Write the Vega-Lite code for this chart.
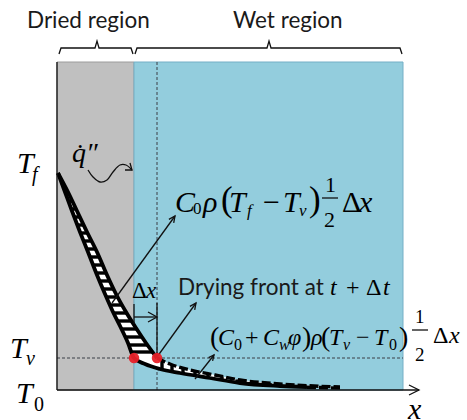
{
  "$schema": "https://vega.github.io/schema/vega-lite/v6.json",
  "width": 467,
  "height": 420,
  "padding": 0,
  "autosize": {"type": "none"},
  "background": "white",
  "config": {"view": {"stroke": null}, "text": {"font": "Liberation Serif", "align": "left", "baseline": "alphabetic", "color": "black"}},
  "datasets": {
    "regions": [
      {"region": "dried", "x": 0, "x2": 7.7, "T": 0, "T2": 32.8},
      {"region": "wet", "x": 7.7, "x2": 34.6, "T": 0, "T2": 32.8}
    ],
    "refs": [
      {"g": "Tv", "x": 0, "x2": 34.6, "T": 3.2, "T2": 3.2},
      {"g": "front", "x": 10.0, "x2": 10.0, "T": 0, "T2": 32.8}
    ],
    "band": [
      {"i": 0, "x": 0.1, "T": 21.7}, {"i": 1, "x": 0.8, "T": 19.8}, {"i": 2, "x": 1.5, "T": 17.9},
      {"i": 3, "x": 2.3, "T": 15.8}, {"i": 4, "x": 3.1, "T": 13.8}, {"i": 5, "x": 4.0, "T": 11.5},
      {"i": 6, "x": 4.8, "T": 9.6}, {"i": 7, "x": 5.6, "T": 7.8}, {"i": 8, "x": 6.4, "T": 6.2},
      {"i": 9, "x": 7.1, "T": 4.7}, {"i": 10, "x": 7.7, "T": 3.2}, {"i": 11, "x": 8.8, "T": 2.6},
      {"i": 12, "x": 10.3, "T": 2.1}, {"i": 13, "x": 12.3, "T": 1.7}, {"i": 14, "x": 15.3, "T": 1.2},
      {"i": 15, "x": 18.3, "T": 0.7}, {"i": 16, "x": 22.3, "T": 0.4}, {"i": 17, "x": 28.3, "T": 0.2},
      {"i": 18, "x": 28.3, "T": 0.3}, {"i": 19, "x": 22.3, "T": 0.6}, {"i": 20, "x": 18.3, "T": 1.0},
      {"i": 21, "x": 15.8, "T": 1.5}, {"i": 22, "x": 13.3, "T": 2.0}, {"i": 23, "x": 11.3, "T": 2.6},
      {"i": 24, "x": 10.0, "T": 3.2}, {"i": 25, "x": 8.9, "T": 4.7}, {"i": 26, "x": 7.9, "T": 6.2},
      {"i": 27, "x": 6.9, "T": 7.8}, {"i": 28, "x": 5.9, "T": 9.6}, {"i": 29, "x": 5.0, "T": 11.5},
      {"i": 30, "x": 4.0, "T": 13.8}, {"i": 31, "x": 3.0, "T": 15.8}, {"i": 32, "x": 2.0, "T": 17.9},
      {"i": 33, "x": 1.1, "T": 19.8}
    ],
    "rungs": [
      {"x": 0.54, "x2": 0.73, "T": 20.5, "T2": 20.5},
      {"x": 0.84, "x2": 1.15, "T": 19.7, "T2": 19.7},
      {"x": 1.13, "x2": 1.53, "T": 18.9, "T2": 18.9},
      {"x": 1.43, "x2": 1.91, "T": 18.1, "T2": 18.1},
      {"x": 1.73, "x2": 2.29, "T": 17.3, "T2": 17.3},
      {"x": 2.03, "x2": 2.67, "T": 16.5, "T2": 16.5},
      {"x": 2.34, "x2": 3.05, "T": 15.7, "T2": 15.7},
      {"x": 2.66, "x2": 3.45, "T": 14.9, "T2": 14.9},
      {"x": 2.98, "x2": 3.85, "T": 14.1, "T2": 14.1},
      {"x": 3.30, "x2": 4.22, "T": 13.3, "T2": 13.3},
      {"x": 3.61, "x2": 4.57, "T": 12.5, "T2": 12.5},
      {"x": 3.92, "x2": 4.91, "T": 11.7, "T2": 11.7},
      {"x": 4.25, "x2": 5.28, "T": 10.9, "T2": 10.9},
      {"x": 4.59, "x2": 5.66, "T": 10.1, "T2": 10.1},
      {"x": 4.93, "x2": 6.07, "T": 9.3, "T2": 9.3},
      {"x": 5.29, "x2": 6.51, "T": 8.5, "T2": 8.5},
      {"x": 5.65, "x2": 6.96, "T": 7.7, "T2": 7.7},
      {"x": 6.05, "x2": 7.46, "T": 6.9, "T2": 6.9},
      {"x": 6.45, "x2": 7.97, "T": 6.1, "T2": 6.1},
      {"x": 6.82, "x2": 8.5, "T": 5.3, "T2": 5.3},
      {"x": 7.19, "x2": 9.03, "T": 4.5, "T2": 4.5},
      {"x": 7.49, "x2": 9.5, "T": 3.8, "T2": 3.8},
      {"x": 10.5, "x2": 10.5, "T": 2.06, "T2": 2.97},
      {"x": 11.5, "x2": 11.5, "T": 1.86, "T2": 2.54},
      {"x": 12.6, "x2": 12.6, "T": 1.65, "T2": 2.21},
      {"x": 13.8, "x2": 13.8, "T": 1.45, "T2": 1.9},
      {"x": 15.1, "x2": 15.1, "T": 1.23, "T2": 1.64},
      {"x": 16.5, "x2": 16.5, "T": 1.0, "T2": 1.36},
      {"x": 18.0, "x2": 18.0, "T": 0.75, "T2": 1.06},
      {"x": 19.6, "x2": 19.6, "T": 0.6, "T2": 0.87},
      {"x": 21.3, "x2": 21.3, "T": 0.47, "T2": 0.7}
    ],
    "rails": [
      {"g": "L", "i": 0, "x": 0.1, "T": 21.7}, {"g": "L", "i": 1, "x": 0.8, "T": 19.8},
      {"g": "L", "i": 2, "x": 1.5, "T": 17.9}, {"g": "L", "i": 3, "x": 2.3, "T": 15.8},
      {"g": "L", "i": 4, "x": 3.1, "T": 13.8}, {"g": "L", "i": 5, "x": 4.0, "T": 11.5},
      {"g": "L", "i": 6, "x": 4.8, "T": 9.6}, {"g": "L", "i": 7, "x": 5.6, "T": 7.8},
      {"g": "L", "i": 8, "x": 6.4, "T": 6.2}, {"g": "L", "i": 9, "x": 7.1, "T": 4.7},
      {"g": "L", "i": 10, "x": 7.7, "T": 3.2}, {"g": "L", "i": 11, "x": 8.8, "T": 2.6},
      {"g": "L", "i": 12, "x": 10.3, "T": 2.1}, {"g": "L", "i": 13, "x": 12.3, "T": 1.7},
      {"g": "L", "i": 14, "x": 15.3, "T": 1.2}, {"g": "L", "i": 15, "x": 18.3, "T": 0.7},
      {"g": "L", "i": 16, "x": 22.3, "T": 0.4}, {"g": "L", "i": 17, "x": 25.0, "T": 0.28},
      {"g": "R", "i": 0, "x": 0.1, "T": 21.7}, {"g": "R", "i": 1, "x": 1.1, "T": 19.8},
      {"g": "R", "i": 2, "x": 2.0, "T": 17.9}, {"g": "R", "i": 3, "x": 3.0, "T": 15.8},
      {"g": "R", "i": 4, "x": 4.0, "T": 13.8}, {"g": "R", "i": 5, "x": 5.0, "T": 11.5},
      {"g": "R", "i": 6, "x": 5.9, "T": 9.6}, {"g": "R", "i": 7, "x": 6.9, "T": 7.8},
      {"g": "R", "i": 8, "x": 7.9, "T": 6.2}, {"g": "R", "i": 9, "x": 8.9, "T": 4.7},
      {"g": "R", "i": 10, "x": 10.0, "T": 3.2}
    ],
    "front": [
      {"g": "R2", "i": 0, "x": 10.0, "T": 3.2}, {"g": "R2", "i": 1, "x": 11.3, "T": 2.6},
      {"g": "R2", "i": 2, "x": 13.3, "T": 2.0}, {"g": "R2", "i": 3, "x": 15.8, "T": 1.5},
      {"g": "R2", "i": 4, "x": 18.3, "T": 1.0}, {"g": "R2", "i": 5, "x": 22.3, "T": 0.6},
      {"g": "R2", "i": 6, "x": 28.3, "T": 0.3},
      {"g": "L2", "i": 0, "x": 25.0, "T": 0.28}, {"g": "L2", "i": 1, "x": 28.5, "T": 0.18}
    ],
    "thin": [
      {"g": "braceL", "i": 0, "x": 0.2, "T": 33.6}, {"g": "braceL", "i": 1, "x": 0.4, "T": 34.2},
      {"g": "braceL", "i": 2, "x": 3.8, "T": 34.2}, {"g": "braceL", "i": 3, "x": 4.0, "T": 34.9},
      {"g": "braceL", "i": 4, "x": 4.2, "T": 34.2}, {"g": "braceL", "i": 5, "x": 7.4, "T": 34.2},
      {"g": "braceL", "i": 6, "x": 7.6, "T": 33.6},
      {"g": "braceR", "i": 0, "x": 7.8, "T": 33.6}, {"g": "braceR", "i": 1, "x": 8.0, "T": 34.2},
      {"g": "braceR", "i": 2, "x": 21.0, "T": 34.2}, {"g": "braceR", "i": 3, "x": 21.2, "T": 34.9},
      {"g": "braceR", "i": 4, "x": 21.4, "T": 34.2}, {"g": "braceR", "i": 5, "x": 34.3, "T": 34.2},
      {"g": "braceR", "i": 6, "x": 34.5, "T": 33.6},
      {"g": "a1", "i": 0, "x": 5.5, "T": 8.7}, {"g": "a1", "i": 1, "x": 11.8, "T": 17.4},
      {"g": "a1h", "i": 0, "x": 11.19, "T": 17.06}, {"g": "a1h", "i": 1, "x": 11.8, "T": 17.4},
      {"g": "a1h", "i": 2, "x": 11.67, "T": 16.71},
      {"g": "a2", "i": 0, "x": 10.0, "T": 3.3}, {"g": "a2", "i": 1, "x": 13.9, "T": 8.7},
      {"g": "a2h", "i": 0, "x": 13.29, "T": 8.36}, {"g": "a2h", "i": 1, "x": 13.9, "T": 8.7},
      {"g": "a2h", "i": 2, "x": 13.77, "T": 8.01},
      {"g": "a3", "i": 0, "x": 13.8, "T": 1.1}, {"g": "a3", "i": 1, "x": 15.7, "T": 3.5},
      {"g": "a3h", "i": 0, "x": 15.16, "T": 3.23}, {"g": "a3h", "i": 1, "x": 15.7, "T": 3.5},
      {"g": "a3h", "i": 2, "x": 15.56, "T": 2.92},
      {"g": "dxa", "i": 0, "x": 7.7, "T": 7.3}, {"g": "dxa", "i": 1, "x": 10.0, "T": 7.3},
      {"g": "dxh", "i": 0, "x": 9.1, "T": 7.8}, {"g": "dxh", "i": 1, "x": 10.0, "T": 7.3},
      {"g": "dxh", "i": 2, "x": 9.1, "T": 6.8},
      {"g": "dxl", "i": 0, "x": 7.7, "T": 8.6}, {"g": "dxl", "i": 1, "x": 7.7, "T": 6.6},
      {"g": "dxr", "i": 0, "x": 10.0, "T": 8.7}, {"g": "dxr", "i": 1, "x": 10.0, "T": 3.2},
      {"g": "xax", "i": 0, "x": 0, "T": 0}, {"g": "xax", "i": 1, "x": 36.2, "T": 0},
      {"g": "xah", "i": 0, "x": 35.2, "T": 0.5}, {"g": "xah", "i": 1, "x": 36.2, "T": 0},
      {"g": "xah", "i": 2, "x": 35.2, "T": -0.5},
      {"g": "yax", "i": 0, "x": 0, "T": 0}, {"g": "yax", "i": 1, "x": 0, "T": 32.8},
      {"g": "bar1", "i": 0, "x": 26.5, "T": 19.2}, {"g": "bar1", "i": 1, "x": 28.1, "T": 19.2},
      {"g": "bar2", "i": 0, "x": 35.5, "T": 6.0}, {"g": "bar2", "i": 1, "x": 37.1, "T": 6.0},
      {"g": "qh", "i": 0, "x": 7.3, "T": 22.7}, {"g": "qh", "i": 1, "x": 7.5, "T": 22.0},
      {"g": "qh", "i": 2, "x": 6.8, "T": 22.0}
    ],
    "squiggle": [
      {"i": 0, "x": 3.1, "T": 22.0}, {"i": 1, "x": 3.6, "T": 21.3}, {"i": 2, "x": 4.3, "T": 20.8},
      {"i": 3, "x": 5.0, "T": 21.0}, {"i": 4, "x": 5.6, "T": 21.8}, {"i": 5, "x": 6.3, "T": 22.5},
      {"i": 6, "x": 6.9, "T": 22.5}, {"i": 7, "x": 7.5, "T": 22.0}
    ],
    "dots": [
      {"front": "t", "x": 7.7, "T": 3.2},
      {"front": "t+dt", "x": 10.0, "T": 3.2}
    ],
    "italic": [
      {"role": "big", "s": "T", "x": -4.0, "T": 21.7},
      {"role": "bigsub", "s": "f", "x": -2.5, "T": 20.9},
      {"role": "big", "s": "T", "x": -4.7, "T": 3.2},
      {"role": "bigsub", "s": "v", "x": -3.1, "T": 2.5},
      {"role": "big", "s": "T", "x": -4.1, "T": -1.3},
      {"role": "big", "s": "x", "x": 35.1, "T": -2.9},
      {"role": "q", "s": "q̇″", "x": 1.5, "T": 22.8},
      {"role": "big", "s": "C", "x": 11.8, "T": 17.8},
      {"role": "big", "s": "ρ", "x": 14.6, "T": 17.8},
      {"role": "big", "s": "T", "x": 17.2, "T": 17.8},
      {"role": "f1sub", "s": "f", "x": 19.0, "T": 17.4},
      {"role": "big", "s": "T", "x": 22.6, "T": 17.8},
      {"role": "f1sub", "s": "v", "x": 24.2, "T": 17.4},
      {"role": "big", "s": "x", "x": 30.2, "T": 17.8},
      {"role": "mid", "s": "C", "x": 16.1, "T": 4.5},
      {"role": "mid", "s": "C", "x": 20.6, "T": 4.5},
      {"role": "midsub", "s": "w", "x": 22.2, "T": 4.0},
      {"role": "mid", "s": "φ", "x": 23.1, "T": 4.5},
      {"role": "mid", "s": "ρ", "x": 25.4, "T": 4.5},
      {"role": "mid", "s": "T", "x": 27.2, "T": 4.5},
      {"role": "midsub", "s": "v", "x": 28.6, "T": 4.0},
      {"role": "mid", "s": "T", "x": 31.7, "T": 4.5},
      {"role": "mid", "s": "x", "x": 39.2, "T": 4.7},
      {"role": "mid", "s": "t", "x": 27.3, "T": 9.5},
      {"role": "mid", "s": "t", "x": 32.6, "T": 9.5},
      {"role": "dx", "s": "x", "x": 8.9, "T": 9.2}
    ],
    "upright": [
      {"role": "bigsub", "s": "0", "x": -2.3, "T": -2.1},
      {"role": "f1sub", "s": "0", "x": 13.6, "T": 17.6},
      {"role": "paren1", "s": "(", "x": 16.4, "T": 17.9},
      {"role": "big", "s": "−", "x": 20.6, "T": 17.8},
      {"role": "paren1", "s": ")", "x": 25.2, "T": 17.9},
      {"role": "frac1", "s": "1", "x": 26.8, "T": 19.8},
      {"role": "frac1", "s": "2", "x": 26.7, "T": 16.3},
      {"role": "big", "s": "Δ", "x": 28.5, "T": 17.8},
      {"role": "paren2", "s": "(", "x": 15.3, "T": 4.4},
      {"role": "midsub", "s": "0", "x": 17.7, "T": 4.0},
      {"role": "mid", "s": "+", "x": 18.8, "T": 4.5},
      {"role": "paren2", "s": ")", "x": 24.5, "T": 4.4},
      {"role": "paren2", "s": "(", "x": 26.4, "T": 4.4},
      {"role": "mid", "s": "−", "x": 29.9, "T": 4.5},
      {"role": "midsub", "s": "0", "x": 33.2, "T": 4.0},
      {"role": "paren2", "s": ")", "x": 34.2, "T": 4.4},
      {"role": "frac2", "s": "1", "x": 35.8, "T": 6.7},
      {"role": "frac2", "s": "2", "x": 35.8, "T": 2.9},
      {"role": "mid", "s": "Δ", "x": 37.6, "T": 4.7},
      {"role": "mid", "s": "+", "x": 28.9, "T": 9.5},
      {"role": "mid", "s": "Δ", "x": 30.9, "T": 9.5},
      {"role": "dx", "s": "Δ", "x": 7.5, "T": 9.2}
    ],
    "sans": [
      {"s": "Dried region", "x": -3.0, "T": 36.2},
      {"s": "Wet region", "x": 17.6, "T": 36.2},
      {"s": "Drying front at", "x": 12.1, "T": 9.5}
    ]
  },
  "encoding": {
    "x": {"field": "x", "type": "quantitative", "scale": {"domain": [-5.7, 41.0], "nice": false, "zero": false}, "axis": null},
    "y": {"field": "T", "type": "quantitative", "scale": {"domain": [-3.0, 39.0], "nice": false, "zero": false}, "axis": null}
  },
  "layer": [
    {
      "data": {"name": "regions"},
      "mark": {"type": "rect", "strokeWidth": 1},
      "encoding": {
        "x2": {"field": "x2"},
        "y2": {"field": "T2"},
        "fill": {"field": "region", "type": "nominal", "scale": {"domain": ["dried", "wet"], "range": ["#c0c0c0", "#93cddd"]}, "legend": null},
        "stroke": {"field": "region", "type": "nominal", "scale": {"domain": ["dried", "wet"], "range": ["#9c9c9c", "#74afc6"]}, "legend": null}
      }
    },
    {
      "data": {"name": "refs"},
      "mark": {"type": "rule", "color": "#3a3f46", "strokeWidth": 1, "strokeDash": [3, 2]},
      "encoding": {"x2": {"field": "x2"}, "y2": {"field": "T2"}}
    },
    {
      "data": {"name": "band"},
      "mark": {"type": "line", "fill": "white", "strokeWidth": 0, "interpolate": "linear"},
      "encoding": {"order": {"field": "i", "type": "quantitative"}}
    },
    {
      "data": {"name": "rungs"},
      "mark": {"type": "rule", "color": "black", "strokeWidth": 3.4},
      "encoding": {"x2": {"field": "x2"}, "y2": {"field": "T2"}}
    },
    {
      "data": {"name": "rails"},
      "mark": {"type": "line", "color": "black", "strokeWidth": 3.8, "interpolate": "monotone"},
      "encoding": {"detail": {"field": "g"}, "order": {"field": "i", "type": "quantitative"}}
    },
    {
      "data": {"name": "front"},
      "mark": {"type": "line", "color": "black", "strokeWidth": 3.4, "strokeDash": [9, 3], "interpolate": "monotone"},
      "encoding": {"detail": {"field": "g"}, "order": {"field": "i", "type": "quantitative"}}
    },
    {
      "data": {"name": "thin"},
      "mark": {"type": "line", "color": "#111", "strokeWidth": 1.3},
      "encoding": {"detail": {"field": "g"}, "order": {"field": "i", "type": "quantitative"}}
    },
    {
      "data": {"name": "squiggle"},
      "mark": {"type": "line", "color": "#111", "strokeWidth": 1.3, "interpolate": "catmull-rom"},
      "encoding": {"order": {"field": "i", "type": "quantitative"}}
    },
    {
      "data": {"name": "dots"},
      "mark": {"type": "point", "shape": "circle", "filled": true, "color": "#e8222a", "opacity": 0.95, "size": 110}
    },
    {"data": {"name": "italic"}, "transform": [{"filter": "datum.role === 'big'"}], "mark": {"type": "text", "font": "Liberation Serif", "fontStyle": "italic", "fontSize": 30}, "encoding": {"text": {"field": "s"}}},
    {"data": {"name": "italic"}, "transform": [{"filter": "datum.role === 'bigsub'"}], "mark": {"type": "text", "font": "Liberation Serif", "fontStyle": "italic", "fontSize": 20}, "encoding": {"text": {"field": "s"}}},
    {"data": {"name": "italic"}, "transform": [{"filter": "datum.role === 'f1sub'"}], "mark": {"type": "text", "font": "Liberation Serif", "fontStyle": "italic", "fontSize": 17}, "encoding": {"text": {"field": "s"}}},
    {"data": {"name": "italic"}, "transform": [{"filter": "datum.role === 'mid'"}], "mark": {"type": "text", "font": "Liberation Serif", "fontStyle": "italic", "fontSize": 24}, "encoding": {"text": {"field": "s"}}},
    {"data": {"name": "italic"}, "transform": [{"filter": "datum.role === 'midsub'"}], "mark": {"type": "text", "font": "Liberation Serif", "fontStyle": "italic", "fontSize": 16}, "encoding": {"text": {"field": "s"}}},
    {"data": {"name": "italic"}, "transform": [{"filter": "datum.role === 'q'"}], "mark": {"type": "text", "font": "Liberation Serif", "fontStyle": "italic", "fontSize": 28}, "encoding": {"text": {"field": "s"}}},
    {"data": {"name": "italic"}, "transform": [{"filter": "datum.role === 'dx'"}], "mark": {"type": "text", "font": "Liberation Serif", "fontStyle": "italic", "fontSize": 23}, "encoding": {"text": {"field": "s"}}},
    {"data": {"name": "upright"}, "transform": [{"filter": "datum.role === 'big'"}], "mark": {"type": "text", "font": "Liberation Serif", "fontSize": 30}, "encoding": {"text": {"field": "s"}}},
    {"data": {"name": "upright"}, "transform": [{"filter": "datum.role === 'bigsub'"}], "mark": {"type": "text", "font": "Liberation Serif", "fontSize": 20}, "encoding": {"text": {"field": "s"}}},
    {"data": {"name": "upright"}, "transform": [{"filter": "datum.role === 'f1sub'"}], "mark": {"type": "text", "font": "Liberation Serif", "fontSize": 17}, "encoding": {"text": {"field": "s"}}},
    {"data": {"name": "upright"}, "transform": [{"filter": "datum.role === 'paren1'"}], "mark": {"type": "text", "font": "Liberation Serif", "fontSize": 35}, "encoding": {"text": {"field": "s"}}},
    {"data": {"name": "upright"}, "transform": [{"filter": "datum.role === 'frac1'"}], "mark": {"type": "text", "font": "Liberation Serif", "fontSize": 22}, "encoding": {"text": {"field": "s"}}},
    {"data": {"name": "upright"}, "transform": [{"filter": "datum.role === 'mid'"}], "mark": {"type": "text", "font": "Liberation Serif", "fontSize": 24}, "encoding": {"text": {"field": "s"}}},
    {"data": {"name": "upright"}, "transform": [{"filter": "datum.role === 'midsub'"}], "mark": {"type": "text", "font": "Liberation Serif", "fontSize": 16}, "encoding": {"text": {"field": "s"}}},
    {"data": {"name": "upright"}, "transform": [{"filter": "datum.role === 'paren2'"}], "mark": {"type": "text", "font": "Liberation Serif", "fontSize": 28}, "encoding": {"text": {"field": "s"}}},
    {"data": {"name": "upright"}, "transform": [{"filter": "datum.role === 'frac2'"}], "mark": {"type": "text", "font": "Liberation Serif", "fontSize": 19}, "encoding": {"text": {"field": "s"}}},
    {"data": {"name": "upright"}, "transform": [{"filter": "datum.role === 'dx'"}], "mark": {"type": "text", "font": "Liberation Serif", "fontSize": 23}, "encoding": {"text": {"field": "s"}}},
    {"data": {"name": "sans"}, "mark": {"type": "text", "font": "Lato", "fontSize": 22.5, "color": "#1a1a1a"}, "encoding": {"text": {"field": "s"}}}
  ]
}
